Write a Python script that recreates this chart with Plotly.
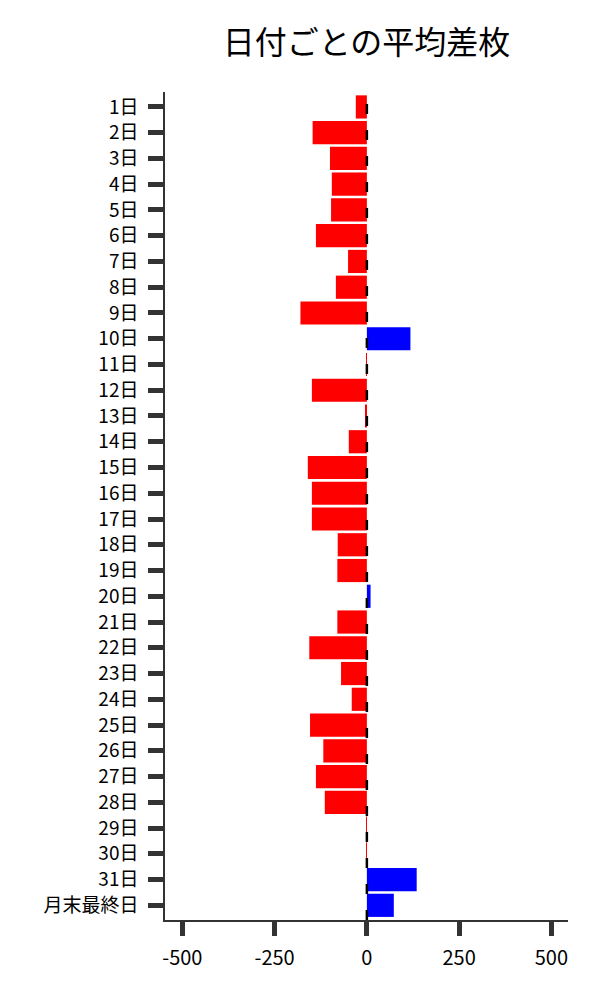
import plotly.graph_objects as go

# データ
days = [f"{i}日" for i in range(1, 32)] + ["月末最終日"]
avg_diff = [-30, -147, -100, -95, -97, -138, -51, -84, -180, 118,
            -2, -149, -5, -49, -160, -149, -149, -79, -80, 10,
            -80, -156, -70, -41, -154, -118, -138, -114, -2, -2,
            135, 73]
x_ticks = [-500, -250, 0, 250, 500]

colors = ["#FF0000" if v < 0 else "#0000FF" for v in avg_diff]

fig = go.Figure()
fig.add_trace(go.Bar(x=avg_diff, y=days, orientation="h",
                     marker_color=colors, marker_line_width=0))

# 0 の破線
fig.add_shape(type="line", x0=0, x1=0, y0=0, y1=1, xref="x", yref="paper",
              line=dict(color="black", width=2.5, dash="10px,16px"))

fig.update_layout(
    width=600, height=1000,
    paper_bgcolor="white", plot_bgcolor="white",
    font=dict(family="Noto Sans CJK JP", size=20, color="black"),
    title=dict(text="日付ごとの平均差枚", x=0.5, xref="paper", y=0.965,
               yanchor="middle", font=dict(size=32)),
    margin=dict(l=157, r=40, t=84, b=88),
    bargap=0.1,
    showlegend=False,
)
fig.update_xaxes(range=[-547, 545], tickvals=x_ticks,
                 ticktext=[str(v) for v in x_ticks],
                 showgrid=False, zeroline=False,
                 showline=True, linecolor="#333", linewidth=1.5,
                 ticks="outside", ticklen=14, tickwidth=5, tickcolor="#333",
                 ticklabelstandoff=5)
fig.update_yaxes(range=[len(days) - 0.43, -0.58], showgrid=False, zeroline=False,
                 showline=True, linecolor="#333", linewidth=1.5,
                 ticks="outside", ticklen=15, tickwidth=5, tickcolor="#333",
                 ticklabelstandoff=6, tickfont=dict(size=19))

fig.write_html("out.html")
